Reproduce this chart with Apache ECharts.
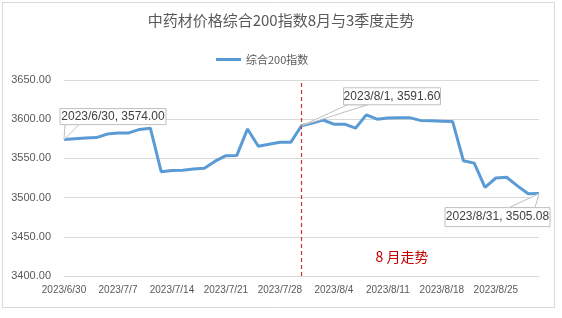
<!DOCTYPE html>
<html><head><meta charset="utf-8">
<script src="https://cdn.jsdelivr.net/npm/echarts@6/dist/echarts.min.js"></script>
<style>html,body{margin:0;padding:0;background:#fff}#c{width:562px;height:318px}</style>
</head><body><div id="c"></div>
<script>
const titleText = '中药材价格综合200指数8月与3季度走势';
const seriesName = '综合200指数';
const dates = ['2023/6/30',
 '2023/7/3','2023/7/4','2023/7/5','2023/7/6','2023/7/7',
 '2023/7/10','2023/7/11','2023/7/12','2023/7/13','2023/7/14',
 '2023/7/17','2023/7/18','2023/7/19','2023/7/20','2023/7/21',
 '2023/7/24','2023/7/25','2023/7/26','2023/7/27','2023/7/28',
 '2023/7/31','2023/8/1','2023/8/2','2023/8/3','2023/8/4',
 '2023/8/7','2023/8/8','2023/8/9','2023/8/10','2023/8/11',
 '2023/8/14','2023/8/15','2023/8/16','2023/8/17','2023/8/18',
 '2023/8/21','2023/8/22','2023/8/23','2023/8/24','2023/8/25',
 '2023/8/28','2023/8/29','2023/8/30','2023/8/31'];
const values = [3574.00,
 3575.0,3576.0,3576.5,3581.0,3582.5,
 3582.5,3587.0,3588.5,3533.0,3534.5,
 3535.0,3536.5,3537.5,3546.5,3553.5,
 3553.6,3587.6,3565.5,3568.0,3570.5,
 3570.5,3591.60,3595.0,3599.0,3593.6,
 3593.6,3588.5,3605.5,3600.0,3601.5,
 3602.0,3602.0,3598.5,3598.0,3597.5,
 3597.0,3547.0,3544.0,3513.0,3525.0,
 3526.0,3515.0,3505.0,3505.08];
const yTicks = [3400, 3450, 3500, 3550, 3600, 3650];
const dividerDate = '2023/8/1';
const periodLabel = '8 月走势';
const annotated = ['2023/6/30', '2023/8/1', '2023/8/31'];

const chart = echarts.init(document.getElementById('c'), null, {renderer: 'canvas'});
const gray = '#595959';
const option = {
  animation: false,
  title: {text: titleText, left: 'center', top: 8,
    textStyle: {fontSize: 15, fontWeight: 'normal', color: gray, fontFamily: '"Noto Sans CJK SC", sans-serif'}},
  legend: {data: [seriesName], left: 211, top: 49, icon: 'rect', itemWidth: 25, itemHeight: 3, itemGap: 4,
    textStyle: {fontSize: 11, color: gray, fontFamily: '"Noto Sans CJK SC", sans-serif'}},
  grid: {left: 64, right: 23, top: 80, bottom: 42},
  xAxis: {type: 'category', data: dates, boundaryGap: false,
    axisLine: {lineStyle: {color: '#d9d9d9'}}, axisTick: {show: false},
    axisLabel: {interval: 4, color: gray, fontSize: 10, margin: 9, fontFamily: '"Liberation Sans Narrow", "Liberation Sans", sans-serif'}},
  yAxis: {type: 'value', min: yTicks[0], max: yTicks[yTicks.length-1], interval: 50,
    axisLine: {show: false}, axisTick: {show: false},
    splitLine: {lineStyle: {color: '#d9d9d9'}},
    axisLabel: {color: gray, fontSize: 11, margin: 13, formatter: v => v.toFixed(2), fontFamily: '"Liberation Sans", sans-serif'}},
  series: [{
    name: seriesName, type: 'line', data: values, symbol: 'none',
    lineStyle: {color: '#5b9bd5', width: 3}, itemStyle: {color: '#5b9bd5'},
    markLine: {silent: true, symbol: 'none', label: {show: false},
      emphasis: {disabled: true},
      lineStyle: {color: '#d0312d', type: [4, 3], width: 1.2, opacity: 1},
      data: [{xAxis: dividerDate, lineStyle: {color: '#d0312d'}}]}
  }]
};
chart.setOption(option);

// callout layout: box offset relative to point, box size, wedge base (relative to box)
const layouts = [
  {bx: -4, by: -31, w: 106, h: 16, base: [[5, 16], [19, 16]]},
  {bx: 42, by: -38, w: 97, h: 17, base: [[4, 17], [24, 17]]},
  {bx: -94, by: 14, w: 105, h: 19, base: [[64, 0], [90, 0]]}
];
const graphics = [];
annotated.forEach((d, k) => {
  const idx = dates.indexOf(d);
  const p = chart.convertToPixel({gridIndex: 0}, [idx, values[idx]]);
  const L = layouts[k];
  const x0 = p[0] + L.bx, y0 = p[1] + L.by;
  graphics.push({type: 'polygon', shape: {points: [[x0 + L.base[0][0], y0 + L.base[0][1]], [p[0], p[1]], [x0 + L.base[1][0], y0 + L.base[1][1]]]},
    style: {fill: '#fff', stroke: '#bfbfbf', lineWidth: 1}, z: 100});
  graphics.push({type: 'rect', shape: {x: x0, y: y0, width: L.w, height: L.h},
    style: {fill: '#fff', stroke: '#bfbfbf', lineWidth: 1}, z: 101});
  graphics.push({type: 'text', x: x0 + L.w / 2, y: y0 + L.h / 2,
    style: {text: d + ', ' + values[idx].toFixed(2), fill: '#404040', fontSize: 12,
      fontFamily: '"Liberation Sans", sans-serif', align: 'center', verticalAlign: 'middle'}, z: 102});
});
graphics.push({type: 'text', x: 402, y: 257, style: {text: periodLabel, fill: '#c00000', fontSize: 14,
  fontFamily: '"Noto Sans CJK SC", sans-serif', align: 'center', verticalAlign: 'middle'}});
graphics.push({type: 'rect', shape: {x: 2.5, y: 2.5, width: 552, height: 305}, style: {fill: 'none', stroke: '#d9d9d9', lineWidth: 1}, silent: true});
chart.setOption({graphic: graphics});
</script></body></html>
